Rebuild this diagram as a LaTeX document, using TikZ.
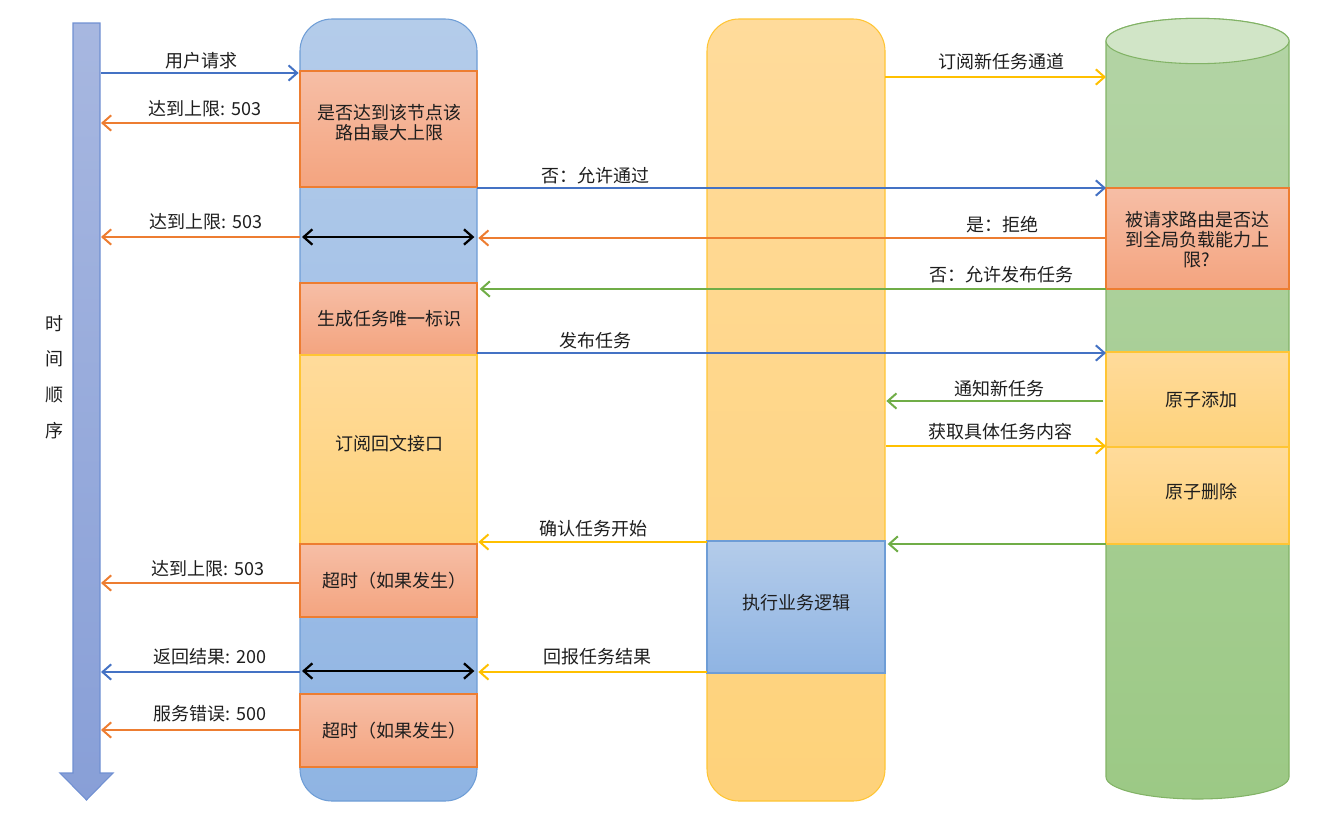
\documentclass[tikz,border=0pt]{standalone}
\usepackage{fontspec}
\setmainfont{Noto Sans CJK SC}
\usetikzlibrary{arrows.meta}
\definecolor{cBlue}{HTML}{4472C4}
\definecolor{cOrange}{HTML}{ED7D31}
\definecolor{cGreen}{HTML}{70AD47}
\definecolor{cYellow}{HTML}{FFC000}
\definecolor{txt}{HTML}{1E1E1E}
\definecolor{timeTop}{HTML}{A7B7E0}
\definecolor{timeBot}{HTML}{889FD7}
\definecolor{timeLine}{HTML}{7090D2}
\definecolor{colBTop}{HTML}{B4CCEA}
\definecolor{colBBot}{HTML}{8FB4E3}
\definecolor{colBLine}{HTML}{6E9DD6}
\definecolor{salTop}{HTML}{F6BEA6}
\definecolor{salBot}{HTML}{F4A47F}
\definecolor{yelTop}{HTML}{FFDB9B}
\definecolor{yelBot}{HTML}{FED27A}
\definecolor{yelLine}{HTML}{FFC534}
\definecolor{grnTop}{HTML}{B3D4A5}
\definecolor{grnBot}{HTML}{9CC985}
\definecolor{grnCap}{HTML}{D1E5C7}
\definecolor{grnLine}{HTML}{82B366}
\tikzset{
  conn/.style={line width=1.5pt,-{Straight Barb[length=6.5pt,width=11.5pt]}},
  dbl/.style={line width=1.7pt,black,{Straight Barb[length=6.5pt,width=11.5pt]}-{Straight Barb[length=6.5pt,width=11.5pt]}},
  lab/.style={inner sep=0pt,text height=0.8em,text depth=0.05em,text=txt},
  boxtext/.style={inner sep=0pt,align=center,text=txt},
  salbox/.style={draw=cOrange,line width=0.8pt,top color=salTop,bottom color=salBot},
  yelbox/.style={draw=yelLine,line width=0.8pt,top color=yelTop,bottom color=yelBot},
  bluebox/.style={draw=colBLine,line width=0.8pt,top color=colBTop,bottom color=colBBot},
  column/.style={line width=0.8pt,rounded corners=24pt,inner sep=0pt,outer sep=0pt,minimum height=586.5pt}
}
\begin{document}
\begin{tikzpicture}[x=0.75pt,y=-0.75pt,font=\fontsize{13.5pt}{15pt}\selectfont]
\useasboundingbox (0,0) rectangle (1330,818);
% time arrow
\path[draw=timeLine,line width=0.8pt,top color=timeTop,bottom color=timeBot]
  (73,23) -- (100,23) -- (100,773) -- (113,773) -- (86.5,800) -- (60,773) -- (73,773) -- cycle;
\coordinate (T) at (101,400);
\node[boxtext,font=\fontsize{13.5pt}{26.8pt}\selectfont] (tl) at (54,377) {时\\间\\顺\\序};

% left column
\node[column,draw=colBLine,top color=colBTop,bottom color=colBBot,minimum width=132.75pt] (L) at (388.5,410) {};
\path[salbox] (300,71) rectangle (477,187);
\path[salbox] (300,283) rectangle (477,355);
\path[yelbox] (300,355) rectangle (477,544);
\path[salbox] (300,544) rectangle (477,617);
\path[salbox] (300,694) rectangle (477,767);
\node[boxtext] (s1) at (389,123) {是否达到该节点该\\路由最大上限};
\node[lab] (s2) at (389,320) {生成任务唯一标识};
\node[lab] (s3) at (389,445) {订阅回文接口};
\node[lab] (s4) at (394,582) {超时（如果发生）};
\node[lab] (s5) at (394,732) {超时（如果发生）};

% middle column
\node[column,draw=yelLine,top color=yelTop,bottom color=yelBot,minimum width=133.5pt] (M) at (796,410) {};
\path[bluebox] (707,541) rectangle (885,673);
\node[lab] (m1) at (796,604) {执行业务逻辑};

% cylinder
\node[inner sep=0pt,outer sep=0pt,minimum width=137.25pt,minimum height=552pt] (C) at (1197.5,409) {};
\path[draw=grnLine,line width=0.8pt,top color=grnTop,bottom color=grnBot]
  (1106,41) -- (1106,777) arc[start angle=180,end angle=360,x radius=68.625pt,y radius=16.5pt]
  -- (1289,41) arc[start angle=0,end angle=180,x radius=68.625pt,y radius=17pt] -- cycle;
\path[draw=grnLine,line width=0.8pt,fill=grnCap] (1197.5,41) ellipse[x radius=68.625pt,y radius=17pt];
\path[salbox] (1106,188) rectangle (1289,289);
\path[yelbox] (1106,352) rectangle (1289,447);
\path[yelbox] (1106,447) rectangle (1289,544);
\node[boxtext] (c1) at (1197,240) {被请求路由是否达\\到全局负载能力上\\限?};
\node[lab] (c2) at (1201,401) {原子添加};
\node[lab] (c3) at (1201,493) {原子删除};

% connectors
\draw[conn,cBlue] (T |- 0,73) -- ([xshift=-1pt]L.west |- 0,73);
\node[lab] (l1) at (201,62) {用户请求};
\draw[conn,cOrange] (L.west |- 0,123) -- (T |- 0,123);
\node[lab] (l2) at (205,110) {达到上限: 503};
\draw[conn,cBlue] (L.east |- 0,188) -- (C.west |- 0,188);
\node[lab] (l3) at (595,177) {否：允许通过};
\draw[conn,cOrange] (L.west |- 0,237) -- (T |- 0,237);
\node[lab] (l4) at (206,223) {达到上限: 503};
\draw[dbl] ([xshift=1.5pt]L.west |- 0,237) -- ([xshift=-2pt]L.east |- 0,237);
\draw[conn,cOrange] (C.west |- 0,238) -- ([xshift=1pt]L.east |- 0,238);
\node[lab] (l5) at (1002,226) {是：拒绝};
\draw[conn,cGreen] (C.west |- 0,289) -- ([xshift=2pt]L.east |- 0,289);
\node[lab] (l6) at (1001,276) {否：允许发布任务};
\draw[conn,cBlue] (L.east |- 0,353) -- (C.west |- 0,353);
\node[lab] (l7) at (595,342) {发布任务};
\draw[conn,cGreen] ([xshift=-2pt]C.west |- 0,401) -- ([xshift=1pt]M.east |- 0,401);
\node[lab] (l8) at (999,390) {通知新任务};
\draw[conn,cYellow] ([xshift=1pt]M.east |- 0,446) -- (C.west |- 0,446);
\node[lab] (l9) at (1000,433) {获取具体任务内容};
\draw[conn,cYellow] (M.west |- 0,542) -- ([xshift=1pt]L.east |- 0,542);
\node[lab] (l10) at (593,530) {确认任务开始};
\draw[conn,cGreen] (C.west |- 0,544) -- ([xshift=2pt]M.east |- 0,544);
\draw[conn,cOrange] (L.west |- 0,583) -- (T |- 0,583);
\node[lab] (l11) at (208,570) {达到上限: 503};
\draw[conn,cBlue] (L.west |- 0,672) -- (T |- 0,672);
\node[lab] (l12) at (210,658) {返回结果: 200};
\draw[dbl] ([xshift=1.5pt]L.west |- 0,671) -- ([xshift=-2pt]L.east |- 0,671);
\draw[conn,cYellow] (M.west |- 0,672) -- ([xshift=1pt]L.east |- 0,672);
\node[lab] (l13) at (597,658) {回报任务结果};
\draw[conn,cOrange] (L.west |- 0,730) -- (T |- 0,730);
\node[lab] (l14) at (210,715) {服务错误: 500};
\draw[conn,cYellow] (M.east |- 0,77) -- (C.west |- 0,77);
\node[lab] (l15) at (1001,63) {订阅新任务通道};
\end{tikzpicture}
\end{document}
